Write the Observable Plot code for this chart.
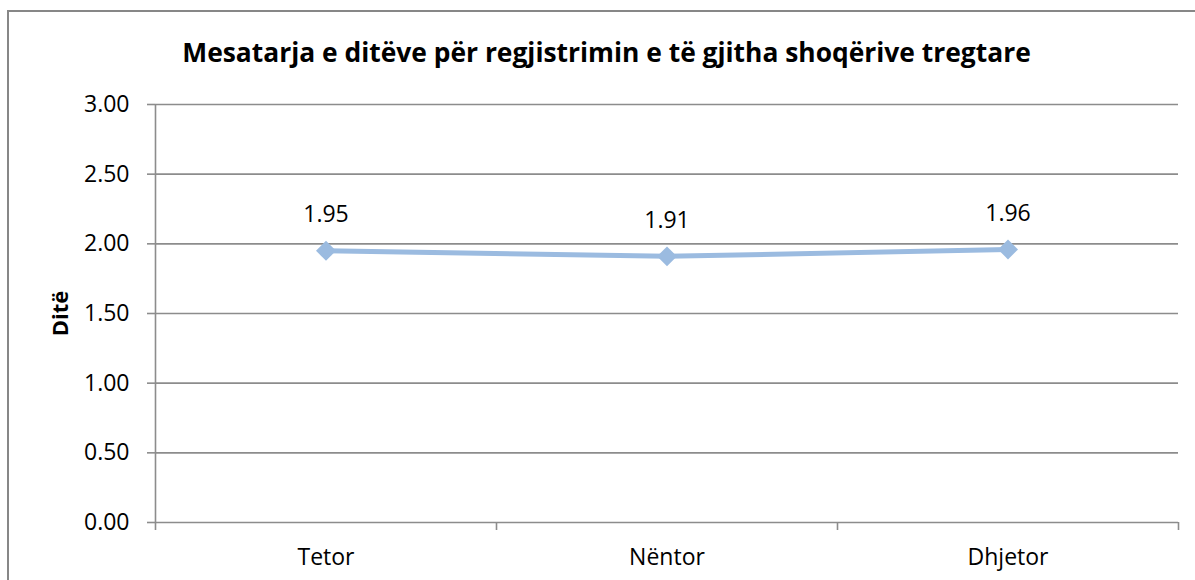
<!DOCTYPE html>
<html><head><meta charset="utf-8">
<script src="https://cdn.jsdelivr.net/npm/d3@7"></script>
<script src="https://cdn.jsdelivr.net/npm/@observablehq/plot@0.6"></script>
<style>
body{margin:0;background:#fff;}
#wrap{position:relative;width:1195px;height:580px;overflow:hidden;}
#border{position:absolute;left:7px;top:10px;width:2000px;height:2000px;border-left:2px solid #878787;border-top:2px solid #878787;}
#chart{position:absolute;left:0;top:0;}
</style></head><body>
<div id="wrap"><div id="border"></div><div id="chart"></div></div>
<script>
const months = ["Tetor", "Nëntor", "Dhjetor"];
const values = [1.95, 1.91, 1.96];
const yTicks = [0, 0.5, 1, 1.5, 2, 2.5, 3];
const title = "Mesatarja e ditëve për regjistrimin e të gjitha shoqërive tregtare";
const yLabel = "Ditë";

const data = months.map((m, i) => ({month: m, value: values[i]}));
const W = 1195, H = 580, ML = 155, MR = 17, MT = 104, MB = 58;
const step = (W - ML - MR) / months.length;
const grid = "#8c8c8c";
const lineColor = "#9bbbe0";

const plot = Plot.plot({
  width: W, height: H,
  marginLeft: ML, marginRight: MR, marginTop: MT, marginBottom: MB,
  style: {fontFamily: "'Open Sans', sans-serif", fontSize: "23px", color: "#000", background: "transparent"},
  x: {type: "band", domain: months, padding: 0, axis: null},
  y: {domain: [0, 3], axis: null},
  marks: [
    Plot.ruleY(yTicks, {stroke: grid, strokeWidth: 1.6}),
    Plot.ruleX([months[0]], {x: d => d, dx: -step / 2, y1: 3, y2: 0, insetBottom: -8, stroke: grid, strokeWidth: 1.6}),
    Plot.ruleX(months.slice(1), {x: d => d, dx: -step / 2, y1: 0, y2: 0, insetBottom: -8, stroke: grid, strokeWidth: 1.6}),
    Plot.ruleX([months[months.length - 1]], {x: d => d, dx: step / 2, y1: 0, y2: 0, insetBottom: -8, stroke: grid, strokeWidth: 1.6}),
    Plot.axisY({ticks: yTicks, tickSize: 8, tickPadding: 18, tickFormat: d3.format(".2f"), label: null, stroke: grid, strokeWidth: 1.6, fill: "#000", fontSize: 23}),
    Plot.axisX({tickSize: 0, tickPadding: 26, label: null, fill: "#000", fontSize: 23}),
    Plot.line(data, {x: "month", y: "value", stroke: lineColor, strokeWidth: 5}),
    Plot.dot(data, {x: "month", y: "value", symbol: "diamond2", r: 9, fill: lineColor, stroke: "none"}),
    Plot.text(data, {x: "month", y: "value", text: d => d.value.toFixed(2), dy: -36, fontSize: 23, fill: "#000"}),
    Plot.text([yLabel], {frameAnchor: "left", textAnchor: "middle", dx: -95, rotate: -90, fontWeight: "bold", fontSize: 22, fill: "#000"}),
    Plot.text([title], {frameAnchor: "top", dx: -60.5, dy: -61, fontWeight: "bold", fontSize: 26.4, fill: "#000"})
  ]
});
document.getElementById("chart").appendChild(plot);
</script>
</body></html>
